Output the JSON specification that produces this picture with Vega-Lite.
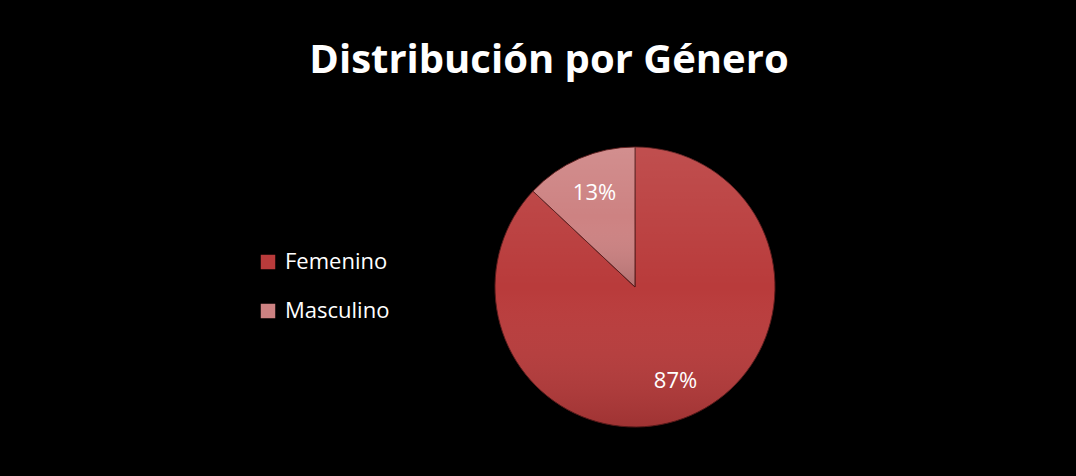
{
  "$schema": "https://vega.github.io/schema/vega-lite/v6.json",
  "width": 300,
  "height": 300,
  "autosize": {"type": "none"},
  "padding": {"left": 485, "top": 137, "right": 291, "bottom": 39},
  "background": "#000000",
  "view": {"stroke": null},
  "title": {
    "text": "Distribución por Género",
    "font": "Open Sans",
    "fontWeight": "bold",
    "fontSize": 40,
    "color": "#ffffff",
    "anchor": "middle",
    "baseline": "alphabetic",
    "offset": 24,
    "dx": -86
  },
  "data": {
    "values": [
      {"genero": "Femenino", "valor": 0.87},
      {"genero": "Masculino", "valor": 0.13}
    ]
  },
  "encoding": {
    "theta": {"field": "valor", "type": "quantitative", "stack": true},
    "order": {"field": "genero", "sort": "ascending"}
  },
  "layer": [
    {
      "mark": {"type": "arc", "outerRadius": 140, "stroke": "#5a1a1a", "strokeWidth": 1},
      "encoding": {
        "color": {
          "field": "genero",
          "type": "nominal",
          "scale": {"domain": ["Femenino", "Masculino"], "range": ["#b93b3b", "#cd8282"]},
          "legend": {
            "title": null,
            "orient": "none",
            "legendX": -228,
            "legendY": 114,
            "symbolType": "square",
            "symbolSize": 210,
            "symbolStrokeWidth": 0,
            "labelFont": "Open Sans",
            "labelFontSize": 22,
            "labelColor": "#ffffff",
            "labelOffset": 6,
            "rowPadding": 27,
            "padding": 0
          }
        }
      }
    },
    {
      "mark": {
        "type": "arc",
        "outerRadius": 140,
        "strokeWidth": 0,
        "fill": {
          "gradient": "linear",
          "x1": 0, "y1": 0, "x2": 0, "y2": 1,
          "stops": [
            {"offset": 0, "color": "rgba(255,255,255,0.10)"},
            {"offset": 0.5, "color": "rgba(255,255,255,0)"},
            {"offset": 1, "color": "rgba(0,0,0,0.14)"}
          ]
        }
      }
    },
    {
      "mark": {"type": "text", "radius": 102, "font": "Open Sans", "fontSize": 22, "color": "#ffffff"},
      "encoding": {
        "text": {"field": "valor", "type": "quantitative", "format": ".0%"}
      }
    }
  ]
}
